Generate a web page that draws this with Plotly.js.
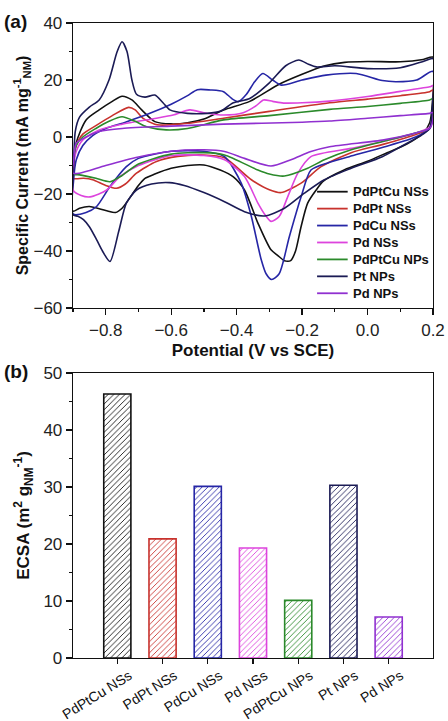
<!DOCTYPE html>
<html>
<head>
<meta charset="utf-8">
<script src="https://cdn.plot.ly/plotly-3.0.1.min.js"></script>
<style>html,body{margin:0;padding:0;background:#fff;}#chart{width:448px;height:721px;}</style>
</head>
<body>
<div id="chart"></div>
<script>
// ---- Panel (a): cyclic voltammograms (potential in V vs SCE, current in mA mg-1) ----
// each loop: anodic scan -0.9 -> 0.2, then cathodic scan 0.2 -> -0.9
const pdptcuNSsE = [-0.9,-0.898,-0.89,-0.86,-0.82,-0.78,-0.75,-0.72,-0.69,-0.65,-0.6,-0.55,-0.5,-0.44,-0.36,-0.27,-0.2,-0.13,-0.07,0.0,0.1,0.17,0.2,
  0.198,0.19,0.17,0.12,0.06,0.0,-0.07,-0.135,-0.157,-0.183,-0.203,-0.22,-0.235,-0.254,-0.275,-0.295,-0.335,-0.376,-0.41,-0.45,-0.5,-0.55,-0.6,-0.65,-0.68,-0.7,-0.72,-0.75,-0.77,-0.8,-0.85,-0.88,-0.9];
const pdptcuNSsI = [-26,-10,-2,6,9.5,12.5,14.3,13,9.5,5.4,4.6,5,6.3,9.5,12.5,18.5,22,25,26.2,26.5,26.4,27.2,28,
  12,5,1.4,-2.5,-5.5,-8.5,-11.5,-15.5,-18.6,-23.2,-31.4,-40,-43.4,-43.4,-41.5,-39.6,-30.2,-18.6,-14,-11.6,-9.8,-10,-11,-13,-14.5,-17,-20.3,-25,-26.5,-25.8,-24.4,-25,-26];

const pdptNSsE = [-0.9,-0.898,-0.89,-0.87,-0.83,-0.78,-0.73,-0.71,-0.686,-0.65,-0.635,-0.55,-0.44,-0.3,-0.116,0.0,0.1,0.19,0.2,
  0.198,0.19,0.15,0.05,-0.05,-0.142,-0.203,-0.264,-0.3,-0.355,-0.437,-0.5,-0.58,-0.645,-0.706,-0.74,-0.767,-0.8,-0.84,-0.868,-0.9];
const pdptNSsI = [-14.5,-8,-3,1,4,7.5,10.4,9.5,6.5,4.5,4.2,4.8,6.6,9,12,13.3,14.5,15.9,16.5,
  7,3,1,-2.5,-5.5,-10.4,-16.2,-19.5,-18.5,-15,-7.3,-6.3,-6.8,-8.6,-12.7,-16.5,-18,-17,-15,-14.5,-14.5];

const pdcuNSsE = [-0.9,-0.898,-0.89,-0.87,-0.84,-0.8,-0.74,-0.665,-0.6,-0.55,-0.52,-0.48,-0.44,-0.415,-0.395,-0.37,-0.345,-0.32,-0.29,-0.264,-0.2,-0.127,-0.035,0.045,0.086,0.15,0.2,
  0.198,0.19,0.147,0.05,-0.056,-0.12,-0.173,-0.203,-0.239,-0.27,-0.293,-0.31,-0.325,-0.355,-0.386,-0.437,-0.5,-0.6,-0.7,-0.737,-0.787,-0.828,-0.86,-0.9];
const pdcuNSsI = [-27,-15,-8,-3,0.5,3,5.2,8.3,11.5,14.5,16.6,16.5,15.9,13.5,12.4,15,19.4,22.3,20,18.2,20,21.7,22.3,19.8,19.4,20,23,
  8,3,0,-3.5,-6.9,-9,-11.6,-21,-35,-48,-50,-48,-43,-27.9,-16.2,-6.9,-5,-5,-7.5,-10.4,-17.4,-24.4,-26.5,-27];

const pdNSsE = [-0.9,-0.898,-0.89,-0.87,-0.82,-0.75,-0.65,-0.594,-0.543,-0.5,-0.44,-0.38,-0.34,-0.318,-0.29,-0.257,-0.2,-0.116,0.0,0.1,0.19,0.2,
  0.198,0.19,0.15,0.05,-0.05,-0.173,-0.213,-0.244,-0.27,-0.295,-0.315,-0.335,-0.376,-0.437,-0.5,-0.6,-0.7,-0.757,-0.797,-0.848,-0.875,-0.9];
const pdNSsI = [-18.6,-10,-5,-1,2.5,4.5,6.5,7.7,9.5,8.5,7.7,8.5,11,13,12.5,11.9,12,12.6,14.2,16,17.6,18,
  8,3.5,1.5,-1.5,-4,-6.9,-12.7,-21,-27.9,-29.6,-27,-23.2,-13.9,-8,-6.5,-6.5,-10,-13.9,-18.6,-21,-20.5,-18.6];

const pdptcuNPsE = [-0.9,-0.898,-0.89,-0.87,-0.83,-0.79,-0.75,-0.71,-0.675,-0.615,-0.55,-0.44,-0.3,-0.116,0.0,0.1,0.19,0.2,
  0.198,0.19,0.15,0.05,-0.05,-0.132,-0.183,-0.254,-0.3,-0.335,-0.437,-0.5,-0.6,-0.7,-0.75,-0.787,-0.83,-0.88,-0.9];
const pdptcuNPsI = [-13,-8,-3,0,3,5.5,7.1,5.5,3.6,2.5,3,6,7.5,9.7,10.7,11.8,13,13.5,
  6,3,1.5,-1.5,-4.5,-8,-11,-13.7,-13,-11.6,-6.3,-5.5,-6,-9.5,-13.5,-15.7,-14.5,-13.3,-13];

const ptNPsE = [-0.9,-0.898,-0.893,-0.88,-0.85,-0.82,-0.79,-0.765,-0.75,-0.735,-0.72,-0.706,-0.68,-0.65,-0.625,-0.604,-0.55,-0.49,-0.45,-0.41,-0.36,-0.3,-0.25,-0.21,-0.18,-0.157,-0.1,0.0,0.1,0.17,0.2,
  0.198,0.19,0.17,0.1,0.045,-0.05,-0.132,-0.193,-0.254,-0.315,-0.376,-0.437,-0.5,-0.56,-0.605,-0.66,-0.706,-0.737,-0.76,-0.787,-0.81,-0.828,-0.85,-0.868,-0.885,-0.9];
const ptNPsI = [-27.3,-10,2,7,10.5,13,20,30,33.4,30,20,15,14,14.7,12,9.5,8.3,8.3,9,12,13.5,19,25,27,25.5,24.6,25,24,24.3,26.5,27.5,
  10,3,1,-3.5,-6.9,-11,-15,-19.7,-25,-27.7,-26.2,-22.7,-19.5,-17,-16,-16.5,-18.6,-23.2,-33,-43.7,-40,-36,-31.5,-29,-27.8,-27.3];

const pdNPsE = [-0.9,-0.898,-0.89,-0.86,-0.82,-0.75,-0.6,-0.44,-0.2,-0.116,0.0,0.1,0.19,0.2,
  0.198,0.19,0.15,0.05,-0.116,-0.173,-0.234,-0.295,-0.376,-0.437,-0.5,-0.6,-0.7,-0.8,-0.88,-0.9];
const pdNPsI = [-12.7,-8,-2.2,0,1.9,3,3.8,4.5,5.2,5.6,6.6,7.5,8.3,8.6,
  5,3,1.5,-1,-3.4,-5.1,-8,-10.2,-7.5,-5.1,-4.5,-5,-7,-10,-12.7,-12.7];

const seriesNames = ['PdPtCu NSs','PdPt NSs','PdCu NSs','Pd NSs','PdPtCu NPs','Pt NPs','Pd NPs'];
const seriesColors = ['#111111','#c8322d','#2626a6','#dd44dd','#2b8a2b','#1b1b55','#9030d0'];

// ---- Panel (b): ECSA (m2 g-1) ----
const ecsaCategories = ['PdPtCu NSs','PdPt NSs','PdCu NSs','Pd NSs','PdPtCu NPs','Pt NPs','Pd NPs'];
const ecsaValues = [46.3, 20.9, 30.1, 19.3, 10.1, 30.3, 7.2];

const cvE = [pdptcuNSsE, pdptNSsE, pdcuNSsE, pdNSsE, pdptcuNPsE, ptNPsE, pdNPsE];
const cvI = [pdptcuNSsI, pdptNSsI, pdcuNSsI, pdNSsI, pdptcuNPsI, ptNPsI, pdNPsI];

const FONT = 'Arial, "Liberation Sans", sans-serif';
const traces = [];
for (let k = 0; k < seriesNames.length; k++) {
  traces.push({
    type: 'scatter', mode: 'lines', name: seriesNames[k],
    x: cvE[k], y: cvI[k], xaxis: 'x', yaxis: 'y', showlegend: false,
    line: {color: seriesColors[k], width: 1.6, shape: 'spline', smoothing: 0.7}
  });
}
traces.push({
  type: 'bar', x: ecsaCategories, y: ecsaValues, xaxis: 'x2', yaxis: 'y2',
  showlegend: false, width: 0.6,
  marker: {
    color: '#ffffff',
    line: {color: seriesColors, width: 1.6},
    pattern: {shape: '/', fgcolor: seriesColors, bgcolor: '#ffffff', size: 4, solidity: 0.22, fgopacity: 1, fillmode: 'overlay'}
  }
});

// hand-placed legend inside panel (a) (compact line spacing as in the figure)
const shapes = [];
const annotations = [];
for (let k = 0; k < seriesNames.length; k++) {
  const yd = (308 - (191.7 + 16.93 * k)) / 285;   // fraction of the y domain
  shapes.push({type: 'line', xref: 'x domain', yref: 'y domain', x0: 0.678, x1: 0.763, y0: yd, y1: yd,
    line: {color: seriesColors[k], width: 1.8}});
  annotations.push({text: '<b>' + seriesNames[k] + '</b>', xref: 'x domain', yref: 'y domain', x: 0.772, y: yd,
    xanchor: 'left', yanchor: 'middle', showarrow: false, font: {family: FONT, size: 13, color: '#111'}});
}
annotations.push({text: '<b>(a)</b>', xref: 'paper', yref: 'paper', x: -0.197, y: 1.002, xanchor: 'left', yanchor: 'middle',
  showarrow: false, font: {family: FONT, size: 19, color: '#111'}});
annotations.push({text: '<b>(b)</b>', xref: 'paper', yref: 'paper', x: -0.197, y: 0.451, xanchor: 'left', yanchor: 'middle',
  showarrow: false, font: {family: FONT, size: 19, color: '#111'}});

const tickFont = {family: FONT, size: 17, color: '#222'};
const titleFont = {family: FONT, size: 17, color: '#111'};
const axBase = {showline: true, linecolor: '#111', linewidth: 1.3, mirror: true, ticks: 'outside',
  ticklen: 6, tickwidth: 1.3, tickcolor: '#111', showgrid: false, zeroline: false, tickfont: tickFont};

const layout = {
  width: 448, height: 721,
  margin: {l: 73, r: 15, t: 23, b: 63},
  paper_bgcolor: '#fff', plot_bgcolor: '#fff',
  font: {family: FONT},
  showlegend: false,
  xaxis: Object.assign({}, axBase, {domain: [0, 1], anchor: 'y', range: [-0.9, 0.2], tick0: -0.8, dtick: 0.2,
    tickformat: '.1f', minor: {ticks: 'outside', ticklen: 3, tickwidth: 1.2, tickcolor: '#111', dtick: 0.1, tick0: -0.9},
    title: {text: '<b>Potential (V vs SCE)</b>', font: titleFont, standoff: 5}}),
  yaxis: Object.assign({}, axBase, {domain: [0.5512, 1], anchor: 'x', range: [-60, 40], dtick: 20,
    minor: {ticks: 'outside', ticklen: 3, tickwidth: 1.2, tickcolor: '#111', dtick: 10},
    title: {text: '<b>Specific Current (mA mg<sup>-1</sup><sub>NM</sub>)</b>', font: {family: FONT, size: 16, color: '#111'}, standoff: 0}}),
  xaxis2: Object.assign({}, axBase, {domain: [0, 1], anchor: 'y2', range: [-0.98, 6.98], tickangle: -32,
    tickfont: {family: FONT, size: 14, color: '#111'}, ticklen: 5, ticklabelshift: 12, ticklabelstandoff: -2}),
  yaxis2: Object.assign({}, axBase, {domain: [0, 0.4489], anchor: 'x2', range: [0, 50], dtick: 10,
    minor: {ticks: 'outside', ticklen: 3, tickwidth: 1.2, tickcolor: '#111', dtick: 5},
    title: {text: '<b>ECSA (m<sup>2</sup> g<sub>NM</sub><sup>-1</sup>)</b>', font: titleFont, standoff: 9}}),
  shapes: shapes,
  annotations: annotations
};

Plotly.newPlot('chart', traces, layout, {displayModeBar: false, staticPlot: true});
</script>
</body>
</html>
